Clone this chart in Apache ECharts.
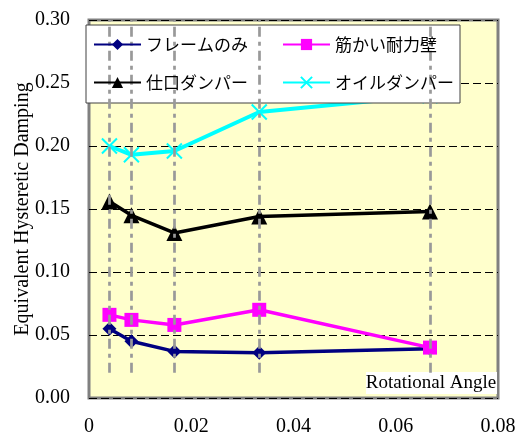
<!DOCTYPE html>
<html>
<head>
<meta charset="utf-8">
<script src="https://cdn.jsdelivr.net/npm/echarts@6/dist/echarts.min.js"></script>
<style>html,body{margin:0;padding:0;background:#fff}#c{width:522px;height:435px}</style>
</head>
<body>
<div id="c"></div>
<script>
const seriesNames = ['フレームのみ', '筋かい耐力壁', '仕口ダンパー', 'オイルダンパー'];
const xValues = [0.004, 0.0083, 0.0167, 0.0333, 0.0667];
const frameOnly = [0.055, 0.045, 0.037, 0.036, 0.039];
const braced = [0.066, 0.062, 0.058, 0.070, 0.040];
const jointDamper = [0.156, 0.145, 0.131, 0.144, 0.148];
const oilDamper = [0.200, 0.193, 0.196, 0.227, 0.240];
const xTicks = [0, 0.02, 0.04, 0.06, 0.08];
const yTicks = [0, 0.05, 0.10, 0.15, 0.20, 0.25, 0.30];

const serif = 'Liberation Serif';
const jp = 'Noto Sans CJK JP';
const pair = (ys) => xValues.map((x, i) => [x, ys[i]]);

const chart = echarts.init(document.getElementById('c'));
chart.setOption({
  animation: false,
  grid: {
    left: 89, right: 24, top: 20, bottom: 37,
    outerBoundsMode: 'none', containLabel: false,
    show: true, backgroundColor: '#FFFFCC', borderColor: '#808080', borderWidth: 3
  },
  xAxis: {
    type: 'value', min: xTicks[0], max: xTicks[xTicks.length - 1], interval: 0.02,
    axisLine: { show: false }, axisTick: { show: false }, splitLine: { show: false },
    axisLabel: {
      margin: 19, fontFamily: serif, fontSize: 20, color: '#000',
      formatter: v => v === 0 ? '0' : v.toFixed(2)
    }
  },
  yAxis: {
    type: 'value', min: yTicks[0], max: yTicks[yTicks.length - 1], interval: 0.05,
    name: 'Equivalent Hysteretic Damping', nameLocation: 'middle', nameGap: 56,
    nameMoveOverlap: false,
    nameTextStyle: { fontFamily: serif, fontSize: 20, color: '#000' },
    axisLine: { show: false }, axisTick: { show: false },
    splitLine: { show: true, lineStyle: { color: '#000', type: [8, 4], width: 1 } },
    axisLabel: {
      margin: 19, fontFamily: serif, fontSize: 20, color: '#000',
      formatter: v => v.toFixed(2)
    }
  },
  legend: [
    {
      data: [seriesNames[0], seriesNames[1]], left: 93, top: 36, padding: 0,
      itemWidth: 47, itemHeight: 14, itemGap: 34, z: 6,
      textStyle: { fontFamily: jp, fontSize: 17, color: '#000' }
    },
    {
      data: [seriesNames[2], seriesNames[3]], left: 93, top: 74, padding: 0,
      itemWidth: 47, itemHeight: 14, itemGap: 34, z: 6,
      textStyle: { fontFamily: jp, fontSize: 17, color: '#000' }
    }
  ],
  graphic: [
    { type: 'rect', z: 5, shape: { x: 86, y: 25, width: 374, height: 78 },
      style: { fill: '#fff', stroke: '#404040', lineWidth: 1 } },
    { type: 'rect', z: 5, shape: { x: 366, y: 372, width: 131, height: 22 },
      style: { fill: '#fff' } },
    { type: 'text', z: 6, x: 431, y: 383,
      style: { text: 'Rotational Angle', fontFamily: serif, fontSize: 19, fill: '#000',
               align: 'center', verticalAlign: 'middle' } }
  ],
  series: [
    {
      name: seriesNames[0], type: 'line', data: pair(frameOnly),
      symbol: 'diamond', symbolSize: 14,
      lineStyle: { color: '#000080', width: 3.5 },
      itemStyle: { color: '#000080' },
      markLine: {
        silent: true, symbol: 'none', label: { show: false },
        lineStyle: { color: '#999999', width: 2.7, type: [10, 5, 4, 5] },
        data: xValues.map(x => [{ coord: [x, 0.02] }, { coord: [x, 0.30] }])
      }
    },
    {
      name: seriesNames[1], type: 'line', data: pair(braced),
      symbol: 'rect', symbolSize: 14,
      lineStyle: { color: '#FF00FF', width: 3.5 },
      itemStyle: { color: '#FF00FF' }
    },
    {
      name: seriesNames[2], type: 'line', data: pair(jointDamper),
      symbol: 'triangle', symbolSize: 16,
      lineStyle: { color: '#000000', width: 3.5 },
      itemStyle: { color: '#000000' }
    },
    {
      name: seriesNames[3], type: 'line', data: pair(oilDamper),
      symbol: 'path://M0,0L10,10M10,0L0,10', symbolSize: 15,
      lineStyle: { color: '#00FFFF', width: 4 },
      itemStyle: { color: '#00FFFF', borderColor: '#00FFFF', borderWidth: 2 }
    }
  ]
});
</script>
</body>
</html>
